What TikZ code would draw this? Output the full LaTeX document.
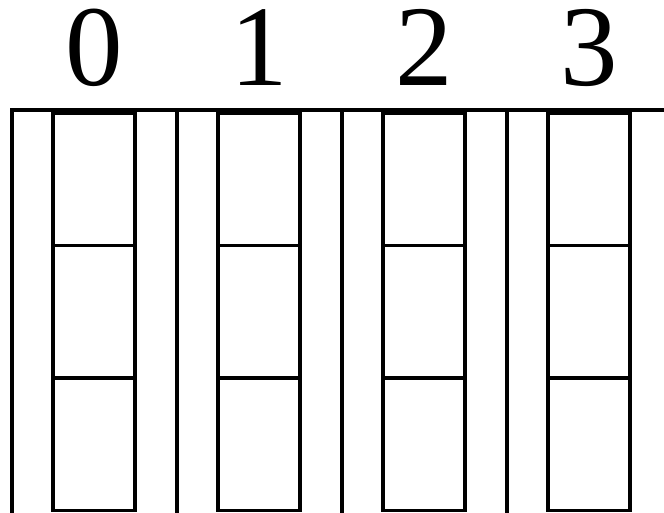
\documentclass[tikz,border=0pt]{standalone}
\usepackage{fontspec}
\setmainfont{Liberation Serif}
\begin{document}
\begin{tikzpicture}[x=1pt, y=1pt, line width=3.8pt,
    digit/.style={anchor=base, inner sep=0pt, text height=0.68em, text depth=0pt,
        font=\fontsize{115}{115}\selectfont}]
    \useasboundingbox (0,0) rectangle (664,513);
    % 顶部横线
    \draw (10,403) -- (664,403);

    % 各列: 竖线, 三格盒子, 编号
    \foreach \i in {0,1,2,3} {
        \draw (12+165*\i,403) -- (12+165*\i,0);
        \draw (53+165*\i,2.5) rectangle (135+165*\i,400);
        \draw (53+165*\i,135) -- (135+165*\i,135);
        \draw (53+165*\i,267.5) -- (135+165*\i,267.5);
        \node[digit] (num\i) at (94+165*\i,427) {\i};
    }
\end{tikzpicture}
\end{document}
